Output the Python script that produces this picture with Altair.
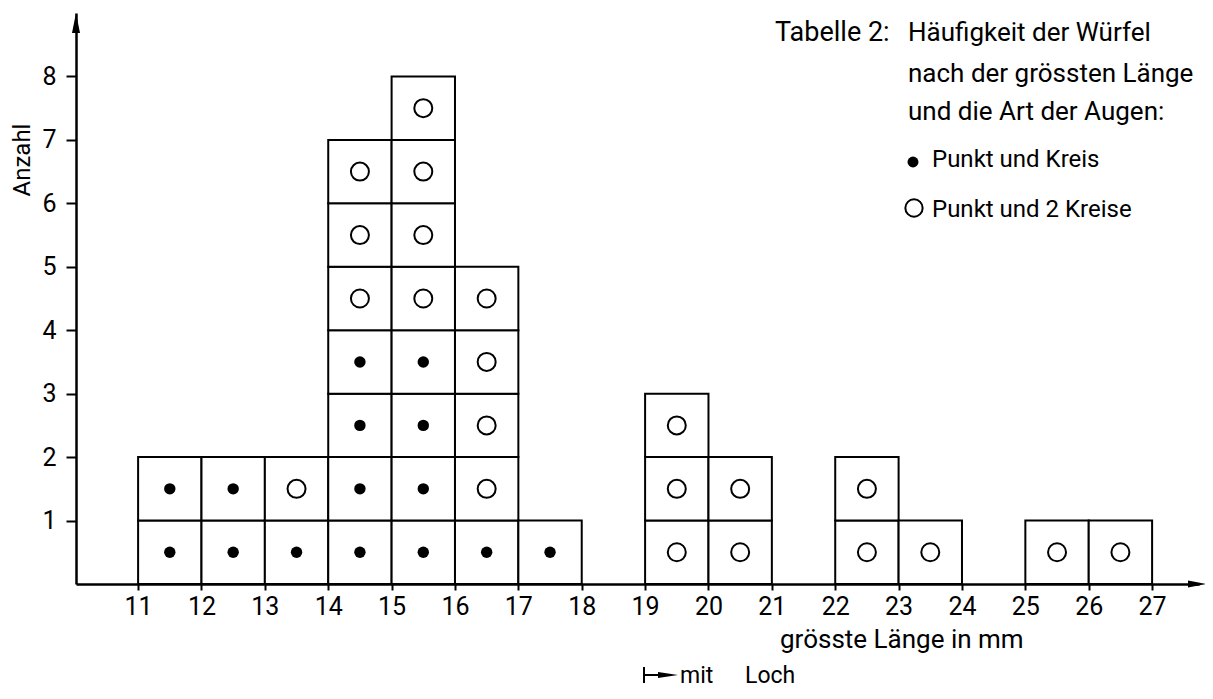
import altair as alt
import pandas as pd

# ---- data ----
bin_start = [11, 12, 13, 14, 15, 16, 17, 19, 20, 22, 23, 25, 26]
n_punkt_kreis = [2, 2, 1, 4, 4, 1, 1, 0, 0, 0, 0, 0, 0]
n_punkt_2kreise = [0, 0, 1, 3, 4, 4, 0, 3, 2, 2, 1, 1, 1]
x_ticks = list(range(11, 28))
y_ticks = list(range(1, 9))
art_labels = ["Punkt und Kreis", "Punkt und 2 Kreise"]
title_lines = ["Tabelle 2:", "Häufigkeit der Würfel", "nach der grössten Länge",
               "und die Art der Augen:"]
x_title = "grösste Länge in mm"
y_title = "Anzahl"
loch_words = ["mit", "Loch"]

rows = []
for b, a, c in zip(bin_start, n_punkt_kreis, n_punkt_2kreise):
    for k in range(a + c):
        rows.append({"x": b, "x2": b + 1, "y": k, "y2": k + 1,
                     "xc": b + 0.5, "yc": k + 0.5,
                     "art": art_labels[0] if k < a else art_labels[1]})
df = pd.DataFrame(rows)

U = 63.4
X0, X1 = 10.02, 27.74
Y0, Y1 = 0, 9
W = round((X1 - X0) * U)
H = round((Y1 - Y0) * U)
PAD_L, PAD_T = 68, 5
FONT = "Roboto"

xs = alt.Scale(domain=[X0, X1], nice=False, zero=False)
ys = alt.Scale(domain=[Y0, Y1], nice=False, zero=False)
x_axis = alt.Axis(values=x_ticks, title=None, tickSize=6, labelPadding=4,
                  labelAngle=0, labelFlush=False, labelOverlap=False)
y_axis = alt.Axis(values=y_ticks, title=None, tickSize=10, labelPadding=10,
                  labelOverlap=False)

base = alt.Chart(df)

boxes = base.mark_rect(fill="white", stroke="black", strokeWidth=2).encode(
    x=alt.X("x:Q", scale=xs, axis=x_axis),
    x2="x2:Q",
    y=alt.Y("y:Q", scale=ys, axis=y_axis),
    y2="y2:Q",
)

dots = base.transform_filter(alt.datum.art == art_labels[0]).mark_point(
    shape="circle", filled=True, color="black", size=130, opacity=1
).encode(x=alt.X("xc:Q", scale=xs, axis=x_axis), y=alt.Y("yc:Q", scale=ys, axis=y_axis))

rings = base.transform_filter(alt.datum.art == art_labels[1]).mark_point(
    shape="circle", filled=False, color="black", size=324, strokeWidth=2, opacity=1
).encode(x=alt.X("xc:Q", scale=xs, axis=x_axis), y=alt.Y("yc:Q", scale=ys, axis=y_axis))

one = pd.DataFrame({"a": [0]})


def txt(s, x, y, size, **kw):
    return alt.Chart(pd.DataFrame({"t": [s]})).mark_text(
        align=kw.pop("align", "left"), baseline=kw.pop("baseline", "alphabetic"),
        font=FONT, fontSize=size, color="black", **kw
    ).encode(x=alt.value(x), y=alt.value(y), text="t:N")


texts = [
    txt(title_lines[0], 699, 28, 27),
    txt(title_lines[1], 832, 28, 26),
    txt(title_lines[2], 832, 69, 26),
    txt(title_lines[3], 832, 107, 26),
    txt(art_labels[0], 856, 154, 24),
    txt(art_labels[1], 856, 204, 24),
    txt(x_title, 704, 635, 26),
    txt(y_title, -53, 147, 24, align="center", baseline="middle", angle=270),
    txt(loch_words[0], 604, 670, 23),
    txt(loch_words[1], 669, 670, 23),
]

leg_dot = alt.Chart(one).mark_point(shape="circle", filled=True, color="black",
                                    size=120, opacity=1).encode(
    x=alt.value(837), y=alt.value(149))
leg_ring = alt.Chart(one).mark_point(shape="circle", filled=False, color="black",
                                     size=300, strokeWidth=2, opacity=1).encode(
    x=alt.value(838), y=alt.value(195))

arrow_up = alt.Chart(one).mark_point(shape="M0,-1L-0.4,1L0.4,1Z", filled=True,
                                     color="black", size=400, opacity=1).encode(
    x=alt.value(0), y=alt.value(10))
arrow_right = alt.Chart(one).mark_point(shape="M1,0L-1,-0.38L-1,0.38Z", filled=True,
                                        color="black", size=324, opacity=1).encode(
    x=alt.value(W - 2), y=alt.value(H))

loch_bar = alt.Chart(one).mark_rule(color="black", strokeWidth=2).encode(
    x=alt.value(568), y=alt.value(654), y2=alt.value(670))
loch_line = alt.Chart(one).mark_rule(color="black", strokeWidth=2).encode(
    x=alt.value(568), x2=alt.value(590), y=alt.value(662))
loch_head = alt.Chart(one).mark_point(shape="M1,0L-1,-0.3L-1,0.3Z", filled=True,
                                      color="black", size=400, opacity=1).encode(
    x=alt.value(592), y=alt.value(662))

chart = alt.layer(
    boxes, dots, rings, *texts, leg_dot, leg_ring, arrow_up, arrow_right,
    loch_bar, loch_line, loch_head
).properties(
    width=W, height=H,
    autosize=alt.AutoSizeParams(type="none"),
    padding={"left": PAD_L, "top": PAD_T,
             "right": 1197 - PAD_L - W, "bottom": 683 - PAD_T - H},
).configure_view(stroke=None).configure_axis(
    domainColor="black", domainWidth=2.5, tickColor="black", tickWidth=2,
    labelColor="black", labelFont=FONT, labelFontSize=25, grid=False,
)

chart.save("out.html", embed_options={"renderer": "svg", "actions": False})
